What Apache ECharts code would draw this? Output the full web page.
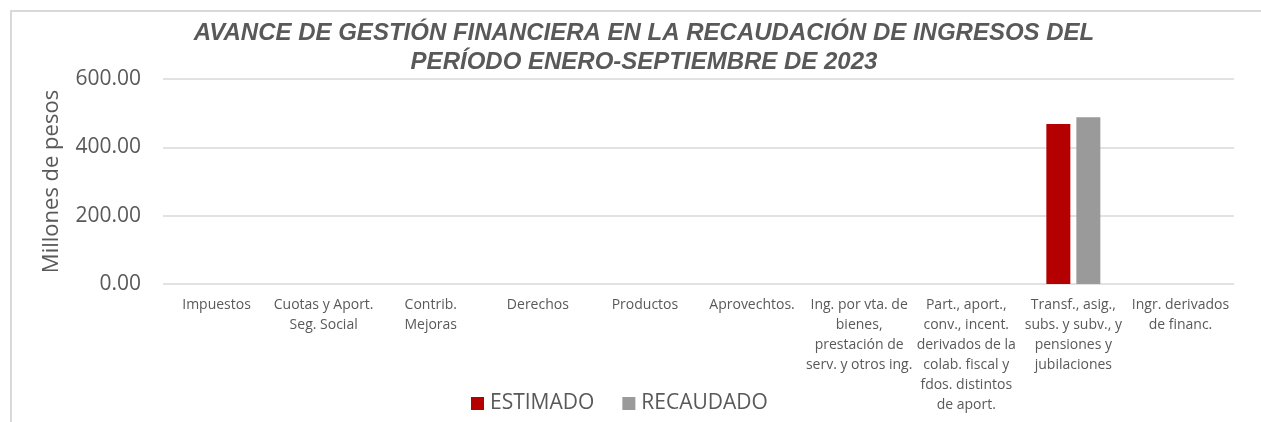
<!DOCTYPE html>
<html>
<head>
<meta charset="utf-8">
<script src="https://cdn.jsdelivr.net/npm/echarts@6/dist/echarts.min.js"></script>
<style>
  html, body { margin: 0; padding: 0; background: #fff; }
  #frame { position: absolute; left: 10px; top: 10px; width: 1251px; height: 412px;
           border-left: 2px solid #d9d9d9; border-top: 2px solid #d9d9d9; }
  #Echart { position: absolute; left: 0; top: 0; width: 1261px; height: 422px; }
</style>
</head>
<body>
<div id="frame"></div>
<div id="Echart"></div>
<script>
// categorías del eje x (con saltos de línea como en el original)
var categorias = [
  'Impuestos',
  'Cuotas y Aport.\nSeg. Social',
  'Contrib.\nMejoras',
  'Derechos',
  'Productos',
  'Aprovechtos.',
  'Ing. por vta. de\nbienes,\nprestación de\nserv. y otros ing.',
  'Part., aport.,\nconv., incent.\nderivados de la\ncolab. fiscal y\nfdos. distintos\nde aport.',
  'Transf., asig.,\nsubs. y subv., y\npensiones y\njubilaciones',
  'Ingr. derivados\nde financ.'
];
// millones de pesos
var estimado  = [0, 0, 0, 0, 0, 0, 0, 0, 468, 0];
var recaudado = [0, 0, 0, 0, 0, 0, 0, 0, 488, 0];
var ticksY = [0, 200, 400, 600];

var textColor = '#595959';
var myChart = echarts.init(document.getElementById('Echart'));
myChart.setOption({
  animation: false,
  title: {
    text: 'AVANCE DE GESTIÓN FINANCIERA EN LA RECAUDACIÓN DE INGRESOS DEL\nPERÍODO ENERO-SEPTIEMBRE DE 2023',
    left: 639,
    top: 14,
    textAlign: 'center',
    textStyle: {
      fontFamily: 'Liberation Sans',
      fontStyle: 'italic',
      fontWeight: 'bold',
      fontSize: 24,
      lineHeight: 29,
      color: textColor
    }
  },
  legend: {
    bottom: 3,
    left: 466,
    itemWidth: 13,
    itemHeight: 13,
    itemGap: 28,
    icon: 'rect',
    textStyle: { fontFamily: 'Open Sans', fontSize: 21, color: textColor, padding: [0, 0, 0, 1] },
    data: ['ESTIMADO', 'RECAUDADO']
  },
  grid: { left: 163, right: 27, top: 79, bottom: 138 },
  xAxis: {
    type: 'category',
    data: categorias,
    axisLine: { show: false },
    axisTick: { show: false },
    axisLabel: {
      interval: 0,
      margin: 11,
      fontFamily: 'Open Sans',
      fontSize: 14,
      lineHeight: 20,
      color: textColor,
      verticalAlign: 'top'
    }
  },
  yAxis: {
    type: 'value',
    min: ticksY[0],
    max: ticksY[ticksY.length - 1],
    interval: ticksY[1] - ticksY[0],
    name: 'Millones de pesos',
    nameLocation: 'middle',
    nameGap: 100,
    nameTextStyle: { fontFamily: 'Open Sans', fontSize: 22, color: textColor },
    axisLabel: {
      margin: 22,
      fontFamily: 'Open Sans',
      fontSize: 21,
      color: textColor,
      formatter: function (v) { return v.toFixed(2); }
    },
    splitLine: { lineStyle: { color: '#d9d9d9', width: 1.5 } }
  },
  series: [
    {
      name: 'ESTIMADO',
      type: 'bar',
      data: estimado,
      barWidth: 24,
      barGap: '25%',
      itemStyle: { color: '#b40000' }
    },
    {
      name: 'RECAUDADO',
      type: 'bar',
      data: recaudado,
      barWidth: 24,
      itemStyle: { color: '#9a9a9a' }
    }
  ]
});
</script>
</body>
</html>
